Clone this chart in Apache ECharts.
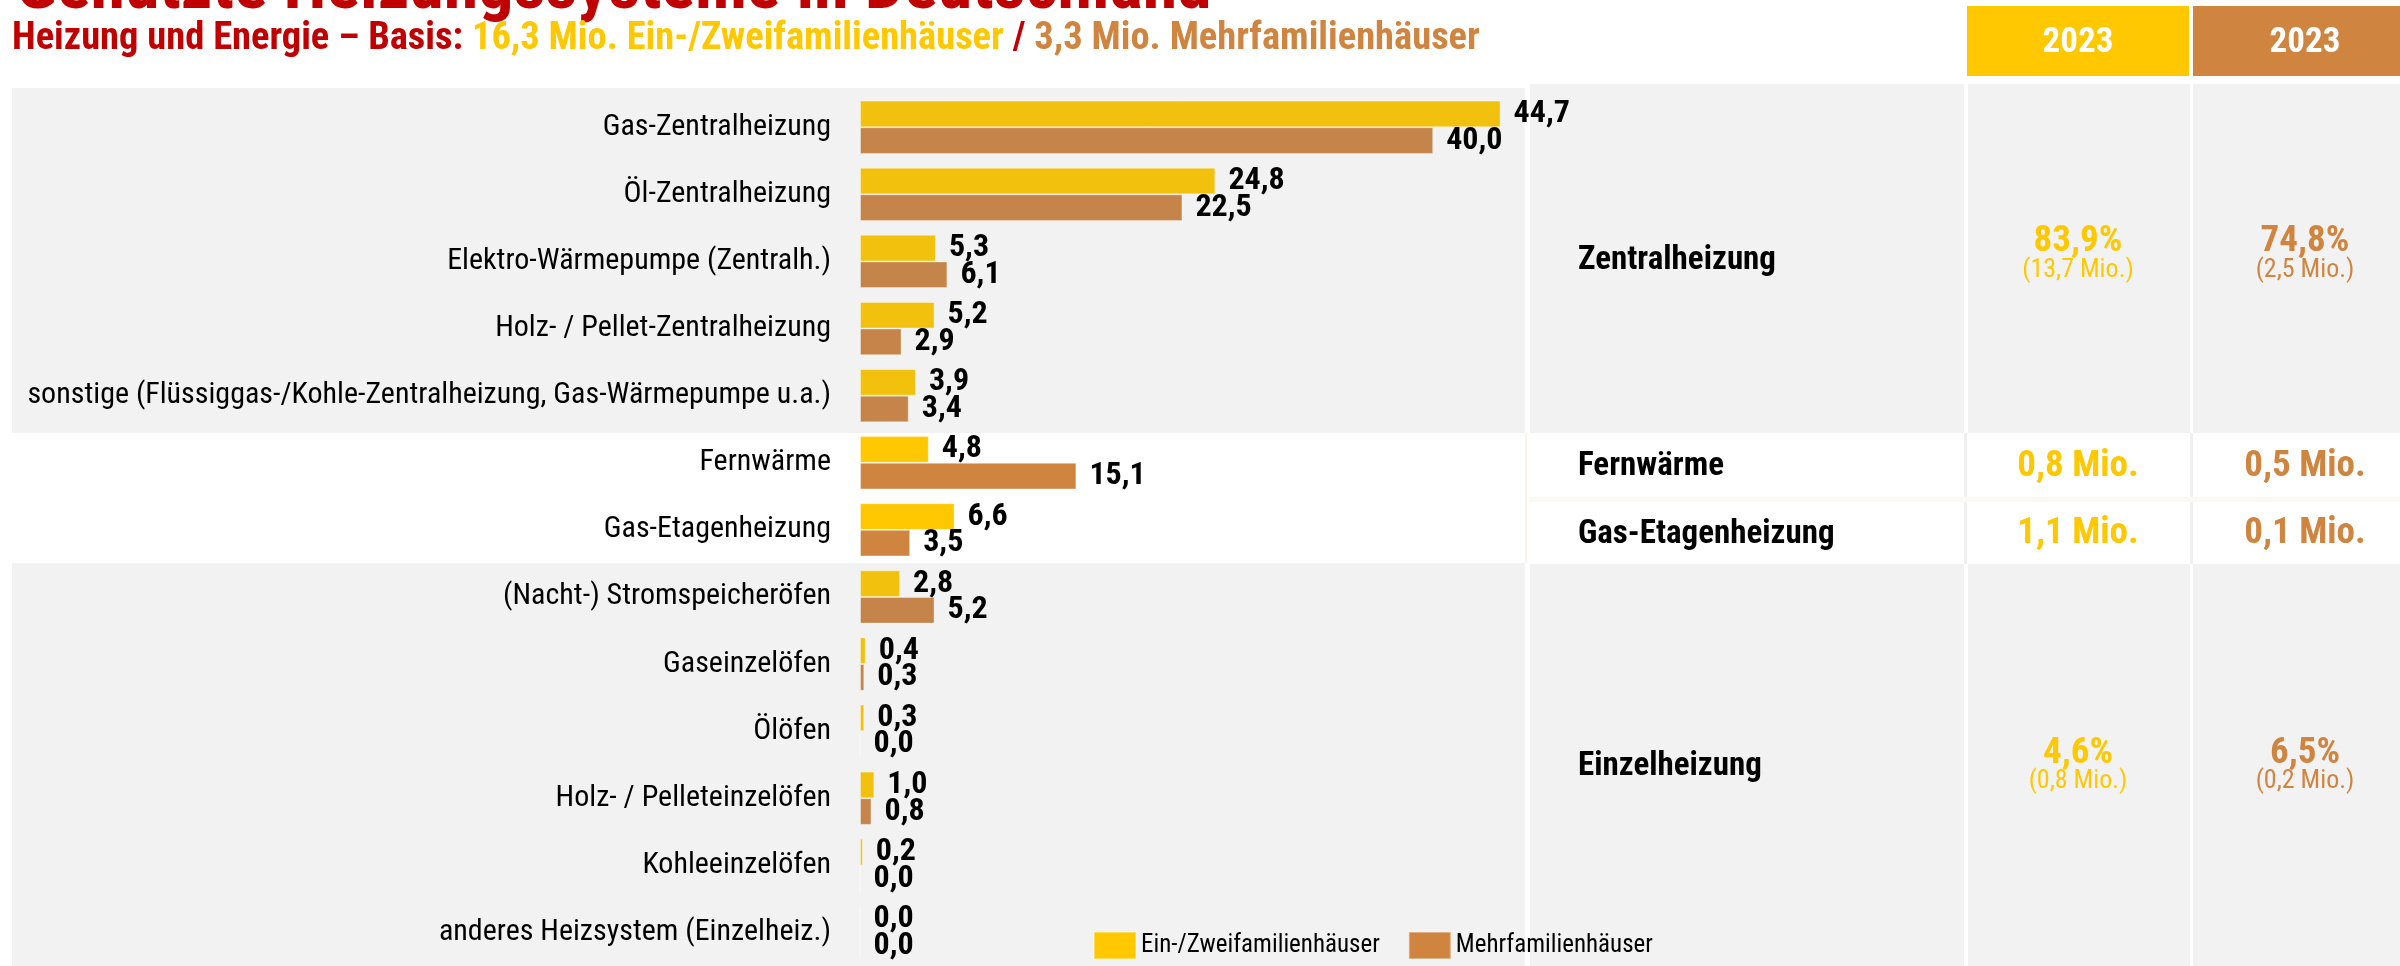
<!DOCTYPE html>
<html>
<head>
<meta charset="utf-8">
<script src="https://cdn.jsdelivr.net/npm/echarts@6/dist/echarts.min.js"></script>
<style>
  html, body { margin: 0; padding: 0; background: #fff; }
  #charts { width: 2400px; height: 966px; }
</style>
</head>
<body>
<div id="charts"></div>
<script>
// Heizungssysteme – Anteile in %
const categories = [
  'Gas-Zentralheizung',
  'Öl-Zentralheizung',
  'Elektro-Wärmepumpe (Zentralh.)',
  'Holz- / Pellet-Zentralheizung',
  'sonstige (Flüssiggas-/Kohle-Zentralheizung, Gas-Wärmepumpe u.a.)',
  'Fernwärme',
  'Gas-Etagenheizung',
  '(Nacht-) Stromspeicheröfen',
  'Gaseinzelöfen',
  'Ölöfen',
  'Holz- / Pelleteinzelöfen',
  'Kohleeinzelöfen',
  'anderes Heizsystem (Einzelheiz.)'
]
const ezfh = [44.7, 24.8, 5.3, 5.2, 3.9, 4.8, 6.6, 2.8, 0.4, 0.3, 1.0, 0.2, 0.0]
const mfh = [40.0, 22.5, 6.1, 2.9, 3.4, 15.1, 3.5, 5.2, 0.3, 0.0, 0.8, 0.0, 0.0]
const seriesNames = ['Ein-/Zweifamilienhäuser', 'Mehrfamilienhäuser']

// Tabelle rechts
const headerYears = ['2023', '2023']
const groupNames = ['Zentralheizung', 'Fernwärme', 'Gas-Etagenheizung', 'Einzelheizung']
const shareEzfh = ['83,9%', '0,8 Mio.', '1,1 Mio.', '4,6%']
const countEzfh = ['(13,7 Mio.)', '', '', '(0,8 Mio.)']
const shareMfh = ['74,8%', '0,5 Mio.', '0,1 Mio.', '6,5%']
const countMfh = ['(2,5 Mio.)', '', '', '(0,2 Mio.)']

const FONT = "'Liberation Sans Narrow', 'Arial Narrow', 'Roboto Condensed', 'Liberation Sans', sans-serif"
const RED = '#C00000'
const YEL = '#FFC800'
const BRN = '#CF8540'
const YEL_DARK = '#F2C10D'
const BRN_DARK = '#C5844A'
const GRAY = '#F2F2F2'

// Kategorien mit weißem Hintergrund (Fernwärme, Gas-Etage)
const whiteRows = [5, 6]

function fmt(v) {
  return v.toFixed(1).replace('.', ',')
}

function buildData(values, light, dark) {
  return values.map((v, i) => ({
    value: v,
    itemStyle: {color: whiteRows.indexOf(i) >= 0 ? light : dark}
  }))
}

// Zeilen der Tabelle: [oben, unten]
const rowBands = [[84, 433], [433, 497], [502, 564], [564, 966]]
const mainY = [242, 467, 534, 754]
const subY = [270, 0, 0, 781]
const colX = [1530, 1968, 2193]
const colW = [434, 222, 222]

const graphics = []

// Hintergrund Diagramm
graphics.push({type: 'rect', silent: true, z: -10, shape: {x: 12, y: 88, width: 1513, height: 345}, style: {fill: GRAY}})
graphics.push({type: 'rect', silent: true, z: -10, shape: {x: 12, y: 563, width: 1513, height: 410}, style: {fill: GRAY}})
graphics.push({type: 'rect', silent: true, z: -10, shape: {x: 1525, y: 433, width: 2, height: 130}, style: {fill: '#FAF3EC'}})

// Kopfzeile
graphics.push({type: 'rect', silent: true, z: -10, shape: {x: 1967, y: 6, width: 222, height: 70}, style: {fill: YEL}})
graphics.push({type: 'rect', silent: true, z: -10, shape: {x: 2193, y: 6, width: 220, height: 70}, style: {fill: BRN}})
headerYears.forEach((t, i) => {
  graphics.push({
    type: 'text', silent: true,
    style: {
      text: t, x: i === 0 ? 2078 : 2305, y: 43, align: 'center', verticalAlign: 'middle',
      fill: '#fff', font: 'bold 35px ' + FONT
    }
  })
})

// Tabellenzellen
rowBands.forEach((b, r) => {
  const fill = (r === 1 || r === 2) ? '#fff' : GRAY
  colX.forEach((x, c) => {
    graphics.push({type: 'rect', silent: true, z: -10, shape: {x: x, y: b[0], width: colW[c], height: b[1] - b[0]}, style: {fill: fill}})
  })
})
// feine Linien in den weißen Zeilen
graphics.push({type: 'rect', silent: true, z: -9, shape: {x: 1964, y: 433, width: 3, height: 131}, style: {fill: '#F0F0F0'}})
graphics.push({type: 'rect', silent: true, z: -9, shape: {x: 2190, y: 433, width: 3, height: 131}, style: {fill: '#F0F0F0'}})
graphics.push({type: 'rect', silent: true, z: -9, shape: {x: 1530, y: 497, width: 880, height: 5}, style: {fill: '#FCF8F3'}})

groupNames.forEach((name, r) => {
  graphics.push({
    type: 'text', silent: true,
    style: {text: name, x: 1578, y: (rowBands[r][0] + rowBands[r][1]) / 2 + 2, align: 'left', verticalAlign: 'middle', fill: '#000', font: 'bold 33px ' + FONT}
  })
  graphics.push({
    type: 'text', silent: true,
    style: {text: shareEzfh[r], x: 2078, y: mainY[r], align: 'center', verticalAlign: 'middle', fill: YEL, font: 'bold 37px ' + FONT}
  })
  graphics.push({
    type: 'text', silent: true,
    style: {text: shareMfh[r], x: 2305, y: mainY[r], align: 'center', verticalAlign: 'middle', fill: BRN, font: 'bold 37px ' + FONT}
  })
  if (countEzfh[r]) {
    graphics.push({
      type: 'text', silent: true,
      style: {text: countEzfh[r], x: 2078, y: subY[r], align: 'center', verticalAlign: 'middle', fill: YEL, font: '26px ' + FONT}
    })
    graphics.push({
      type: 'text', silent: true,
      style: {text: countMfh[r], x: 2305, y: subY[r], align: 'center', verticalAlign: 'middle', fill: BRN, font: '26px ' + FONT}
    })
  }
})

// Titel (oben angeschnitten) und Untertitel
graphics.push({
  type: 'text', silent: true,
  style: {text: 'Genutzte Heizungssysteme in Deutschland', x: 16, y: -10, align: 'left', verticalAlign: 'middle', fill: RED, font: 'bold 70px ' + FONT}
})
graphics.push({
  type: 'text', silent: true,
  style: {
    text: '{r|Heizung und Energie – Basis: }{y|16,3 Mio. Ein-/Zweifamilienhäuser}{r| / }{b|3,3 Mio. Mehrfamilienhäuser}',
    x: 12, y: 39, align: 'left', verticalAlign: 'middle',
    rich: {
      r: {fill: RED, font: 'bold 38.5px ' + FONT},
      y: {fill: YEL, font: 'bold 38.5px ' + FONT},
      b: {fill: BRN, font: 'bold 38.5px ' + FONT}
    }
  }
})

const labelStyle = {
  show: true,
  position: 'right',
  distance: 13,
  color: '#000',
  fontFamily: FONT,
  fontWeight: 'bold',
  fontSize: 32,
  formatter: p => fmt(p.value)
}

const chart = echarts.init(document.getElementById('charts'), null, {renderer: 'canvas'})
chart.setOption({
  animation: false,
  backgroundColor: '#fff',
  graphic: graphics,
  legend: {
    data: seriesNames,
    left: 1093,
    top: 931,
    itemWidth: 42,
    itemHeight: 27,
    itemGap: 28,
    padding: 0,
    icon: 'rect',
    textStyle: {fontFamily: FONT, fontSize: 25, color: '#000'}
  },
  grid: {
    left: 860,
    top: 93.7,
    width: 716.5,
    height: 875
  },
  xAxis: {
    type: 'value',
    min: 0,
    max: 50,
    show: false
  },
  yAxis: {
    type: 'category',
    inverse: true,
    data: categories,
    axisLine: {show: false},
    axisTick: {show: false},
    splitLine: {show: false},
    axisLabel: {
      margin: 29,
      color: '#000',
      fontFamily: FONT,
      fontSize: 30
    }
  },
  series: [
    {
      name: seriesNames[0],
      type: 'bar',
      barGap: 0,
      barCategoryGap: '20.6%',
      itemStyle: {color: YEL, borderColor: 'rgba(255,255,255,0.35)', borderWidth: 1},
      label: labelStyle,
      data: buildData(ezfh, YEL, YEL_DARK)
    },
    {
      name: seriesNames[1],
      type: 'bar',
      barGap: 0,
      barCategoryGap: '20.6%',
      itemStyle: {color: BRN, borderColor: 'rgba(255,255,255,0.35)', borderWidth: 1},
      label: labelStyle,
      data: buildData(mfh, BRN, BRN_DARK)
    }
  ]
})
</script>
</body>
</html>
